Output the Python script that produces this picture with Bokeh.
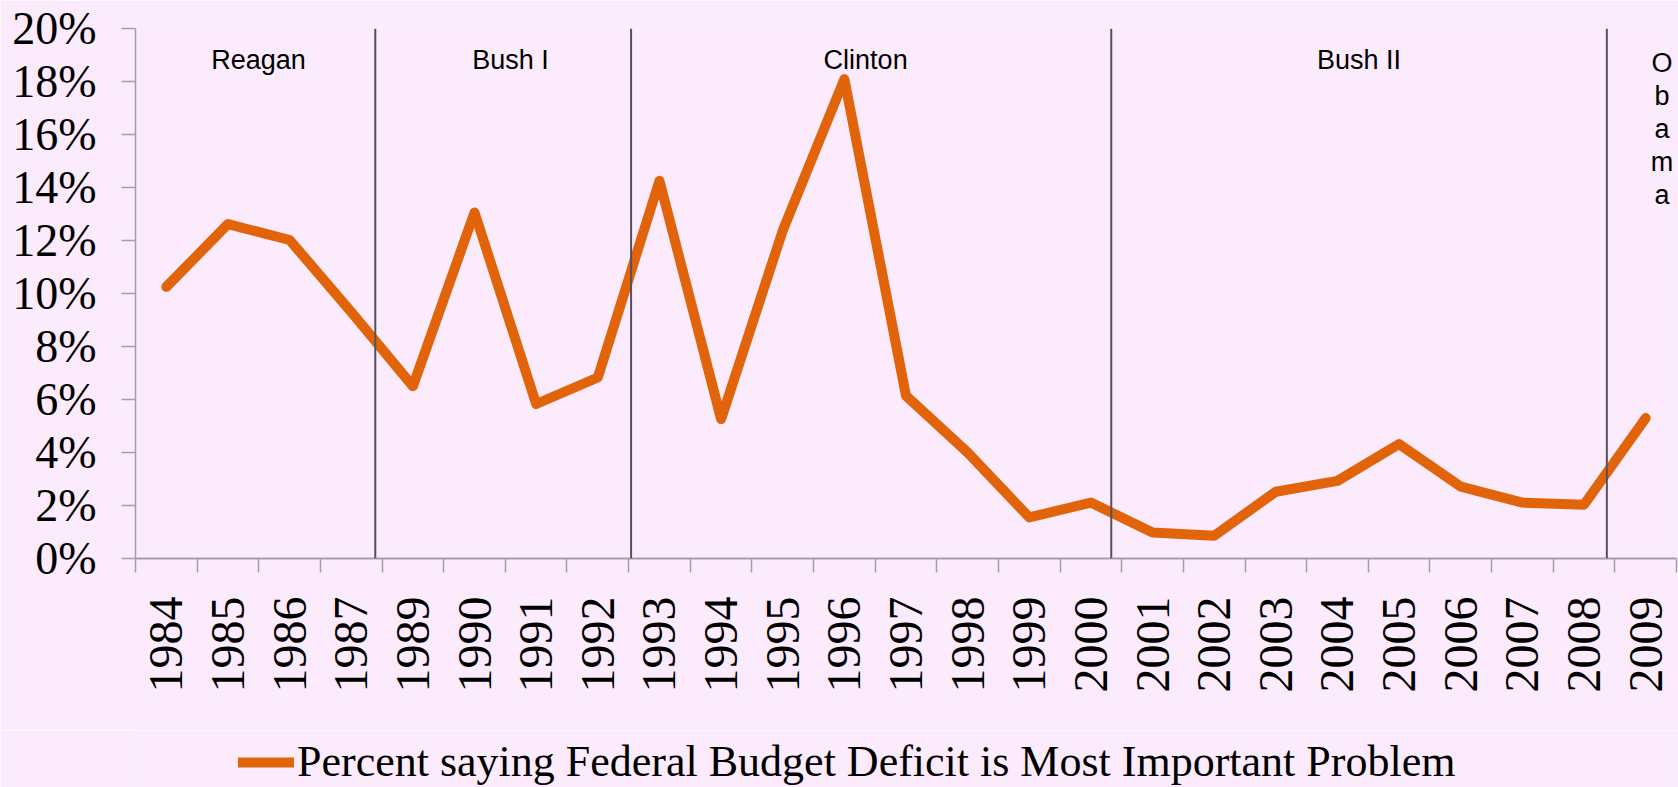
import numpy as np
from bokeh.plotting import figure
from bokeh.layouts import column
from bokeh.models import (Range1d, FixedTicker, PrintfTickFormatter, Span, Label,
                          Legend, LegendItem, ColumnDataSource)
from bokeh.embed import file_html
from bokeh.resources import INLINE

# ---------------- data ----------------
years = ["1984", "1985", "1986", "1987", "1989", "1990", "1991", "1992", "1993",
         "1994", "1995", "1996", "1997", "1998", "1999", "2000", "2001", "2002",
         "2003", "2004", "2005", "2006", "2007", "2008", "2009"]
pct = [10.25, 12.62, 12.02, 9.3, 6.5, 13.06, 5.83, 6.83, 14.25,
       5.26, 12.37, 18.09, 6.14, 4.0, 1.55, 2.11, 0.98, 0.86,
       2.52, 2.93, 4.32, 2.71, 2.11, 2.03, 5.30]
presidents = ["Reagan", "Bush I", "Clinton", "Bush II", "Obama"]
term_start = ["1989", "1993", "2001", "2009"]
series_name = "Percent saying Federal Budget Deficit is Most Important Problem"
y_ticks = [0, 2, 4, 6, 8, 10, 12, 14, 16, 18, 20]

# ---------------- style ----------------
BG = "#FCEBFC"
ORANGE = "#E2640A"
AXIS = "#A39FA6"
DIVIDER = "#57505A"
divider_shift = [-0.11, 0.04, -0.17, -0.13]
label_nudge = [0.05, 0.12, -0.09, 0.0, 0.33]
LINE_STYLE = dict(line_color=ORANGE, line_width=10, line_join="round", line_cap="round")

W = 1678
H_MAIN = 730
H_LEG = 57

n = len(years)
xs = list(range(n))
src = ColumnDataSource(dict(x=xs, year=years, pct=pct))

p = figure(width=W, height=H_MAIN, output_backend="svg", toolbar_location=None,
           x_range=Range1d(-0.5, n - 0.5), y_range=Range1d(0, 20),
           min_border_left=135, min_border_right=2, min_border_top=28,
           min_border_bottom=172,
           background_fill_color=BG, border_fill_color=BG, outline_line_color=None)
p.grid.visible = False

r = p.line("x", "pct", source=src, **LINE_STYLE)

# x axis: labels at centres, ticks at boundaries
ax = p.xaxis[0]
ax.ticker = FixedTicker(ticks=xs, minor_ticks=[i - 0.5 for i in range(n + 1)])
ax.major_label_overrides = {i: y for i, y in enumerate(years)}
ax.major_label_orientation = np.pi / 2
ax.major_tick_out = 0
ax.major_tick_in = 0
ax.minor_tick_out = 14
ax.minor_tick_in = 0
ax.minor_tick_line_color = AXIS
ax.minor_tick_line_width = 1.5
ax.axis_line_color = AXIS
ax.axis_line_width = 2
ax.major_label_text_font = "Liberation Serif"
ax.major_label_text_font_size = "48px"
ax.major_label_text_color = "black"
ax.major_label_standoff = 24

ay = p.yaxis[0]
ay.ticker = FixedTicker(ticks=y_ticks, minor_ticks=[])
ay.formatter = PrintfTickFormatter(format="%d%%")
ay.major_tick_out = 14
ay.major_tick_in = 0
ay.minor_tick_out = 0
ay.minor_tick_in = 0
ay.major_tick_line_color = AXIS
ay.major_tick_line_width = 1.5
ay.axis_line_color = AXIS
ay.axis_line_width = 1.5
ay.major_label_text_font = "Liberation Serif"
ay.major_label_text_font_size = "46px"
ay.major_label_text_color = "black"
ay.major_label_standoff = 25

# presidential term dividers
div_pos = [years.index(yr) - 0.5 + sh for yr, sh in zip(term_start, divider_shift)]
for loc in div_pos:
    p.add_layout(Span(location=loc, dimension="height", line_color=DIVIDER,
                      line_width=2))

bounds = [-0.5] + div_pos + [n - 0.5]
for i, name in enumerate(presidents):
    cx = (bounds[i] + bounds[i + 1]) / 2 + label_nudge[i]
    if name == "Obama":
        p.add_layout(Label(x=cx, y=19.28, text="\n".join(name),
                           text_align="center", text_baseline="top",
                           text_font="Liberation Sans", text_font_size="27px",
                           text_line_height=1.1, text_color="black"))
    else:
        p.add_layout(Label(x=cx, y=18.82, text=name, text_align="center",
                           text_baseline="middle", text_font="Liberation Sans",
                           text_font_size="27px", text_color="black"))

# ---------------- legend strip ----------------
pl = figure(width=W, height=H_LEG, output_backend="svg", toolbar_location=None,
            x_range=Range1d(0, 1), y_range=Range1d(0, 1),
            x_axis_location=None, y_axis_location=None,
            min_border=0, background_fill_color=BG, border_fill_color=BG,
            outline_line_color=None)
pl.grid.visible = False
# legend proxy renderer (kept outside the visible range of the strip)
rl = pl.line(x=[-10, -9], y=[-10, -9], **LINE_STYLE)
legend = Legend(items=[LegendItem(label=series_name, renderers=[rl])],
                location=(103, 0), orientation="horizontal",
                padding=0, margin=0, spacing=0, glyph_width=56, glyph_height=30,
                label_height=30, label_standoff=3,
                label_text_font="Liberation Serif", label_text_font_size="44px",
                label_text_color="black",
                background_fill_alpha=0, border_line_alpha=0)
pl.add_layout(legend)

layout = column(p, pl, spacing=0)
open("out.html", "w").write(file_html(layout, INLINE))
